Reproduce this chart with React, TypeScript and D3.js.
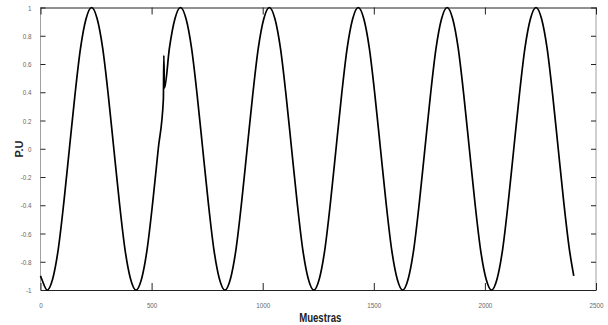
import { useEffect, useRef } from 'react';
import * as d3 from 'd3';

// muestras (con el transitorio cerca de la muestra 555)
const muestras = [
  0, 5, 30, 55, 80, 105, 130, 155, 180, 205, 230, 255, 280, 305, 330, 355, 380,
  405, 430, 455, 480, 505, 530, 553, 555, 558, 580, 605, 630, 655, 680, 705, 730, 755, 780,
  805, 830, 855, 880, 905, 930, 955, 980, 1005, 1030, 1055, 1080, 1105, 1130, 1155, 1180,
  1205, 1230, 1255, 1280, 1305, 1330, 1355, 1380, 1405, 1430, 1455, 1480, 1505, 1530, 1555, 1580,
  1605, 1630, 1655, 1680, 1705, 1730, 1755, 1780, 1805, 1830, 1855, 1880, 1905, 1930, 1955, 1980,
  2005, 2030, 2055, 2080, 2105, 2130, 2155, 2180, 2205, 2230, 2255, 2280, 2305, 2330, 2355, 2380, 2400,
];
const valores = [
  -0.9, -0.92, -1, -0.92, -0.71, -0.38, 0, 0.38, 0.71, 0.92, 1, 0.92, 0.71, 0.38, 0, -0.38, -0.71,
  -0.92, -1, -0.92, -0.71, -0.38, 0, 0.35, 0.66, 0.43, 0.71, 0.92, 1, 0.92, 0.71, 0.38, 0, -0.38, -0.71,
  -0.92, -1, -0.92, -0.71, -0.38, 0, 0.38, 0.71, 0.92, 1, 0.92, 0.71, 0.38, 0, -0.38, -0.71,
  -0.92, -1, -0.92, -0.71, -0.38, 0, 0.38, 0.71, 0.92, 1, 0.92, 0.71, 0.38, 0, -0.38, -0.71,
  -0.92, -1, -0.92, -0.71, -0.38, 0, 0.38, 0.71, 0.92, 1, 0.92, 0.71, 0.38, 0, -0.38, -0.71,
  -0.92, -1, -0.92, -0.71, -0.38, 0, 0.38, 0.71, 0.92, 1, 0.92, 0.71, 0.38, 0, -0.38, -0.71, -0.9,
];
const xTicks = [0, 500, 1000, 1500, 2000, 2500];
const yTicks = [-1, -0.8, -0.6, -0.4, -0.2, 0, 0.2, 0.4, 0.6, 0.8, 1];

const W = 608, H = 325;
const FONT = '"Liberation Sans", Arial, sans-serif';

// la figura original usa una fuente estrecha: se comprime el texto
function narrow(sel: d3.Selection<any, any, any, any>, k = 0.78) {
  sel.each(function (this: SVGTextElement) {
    const l = this.getComputedTextLength();
    this.setAttribute('textLength', String(l * k));
    this.setAttribute('lengthAdjust', 'spacingAndGlyphs');
  });
}

export default function App() {
  const ref = useRef<SVGSVGElement | null>(null);
  useEffect(() => {
    const svg = d3.select(ref.current!);
    svg.selectAll('*').remove();
    const margin = { top: 7.5, right: 12, bottom: 35, left: 40.5 };
    const iw = W - margin.left - margin.right;
    const ih = H - margin.top - margin.bottom;
    const g = svg.append('g').attr('transform', `translate(${margin.left},${margin.top})`);

    const x = d3.scaleLinear().domain([0, 2500]).range([0, iw]);
    const y = d3.scaleLinear().domain([-1, 1]).range([ih, 0]);

    // marco: arriba/abajo negro, lados gris
    g.append('line').attr('x1', 0).attr('x2', 0).attr('y1', 0).attr('y2', ih).attr('stroke', '#a0a0a0');
    g.append('line').attr('x1', iw).attr('x2', iw).attr('y1', 0).attr('y2', ih).attr('stroke', '#a0a0a0');

    const fmt = (d: number) => String(+d.toFixed(1));
    g.append('g').attr('transform', `translate(0,${ih})`)
      .call(d3.axisBottom(x).tickValues(xTicks).tickSizeInner(-7).tickSizeOuter(0).tickPadding(12).tickFormat((d) => String(d)))
      .call((s) => s.select('.domain').attr('stroke', '#222'))
      .call((s) => s.selectAll('.tick line').attr('stroke', '#222'))
      .selectAll('text').attr('font-size', 8).attr('fill', '#666').attr('font-family', FONT).call(narrow);
    g.append('g')
      .call(d3.axisTop(x).tickValues(xTicks).tickSizeInner(-7).tickSizeOuter(0).tickFormat(() => ''))
      .call((s) => s.select('.domain').attr('stroke', '#222'))
      .call((s) => s.selectAll('.tick line').attr('stroke', '#222'));
    g.append('g')
      .call(d3.axisLeft(y).tickValues(yTicks).tickSizeInner(-5).tickSizeOuter(0).tickPadding(9).tickFormat((d) => fmt(Number(d))))
      .call((s) => s.select('.domain').remove())
      .call((s) => s.selectAll('.tick line').attr('stroke', '#222'))
      .selectAll('text').attr('font-size', 8).attr('fill', '#666').attr('font-family', FONT).call(narrow);
    g.append('g').attr('transform', `translate(${iw},0)`)
      .call(d3.axisRight(y).tickValues(yTicks).tickSizeInner(-5).tickSizeOuter(0).tickFormat(() => ''))
      .call((s) => s.select('.domain').remove())
      .call((s) => s.selectAll('.tick line').attr('stroke', '#222'));

    const data = muestras.map((m, i) => ({ m, v: valores[i] }));
    const line = d3.line<{ m: number; v: number }>().x((d) => x(d.m)).y((d) => y(d.v)).curve(d3.curveMonotoneX);
    g.append('path').datum(data).attr('fill', 'none').attr('stroke', '#000').attr('stroke-width', 1.7)
      .attr('stroke-linejoin', 'round').attr('d', line as any);

    svg.append('text').attr('x', margin.left + iw / 2 + 2).attr('y', 322).attr('text-anchor', 'middle')
      .attr('font-size', 12).attr('font-weight', 'bold').attr('fill', '#222').attr('font-family', FONT).text('Muestras')
      .call(narrow, 0.8);
    svg.append('text').attr('transform', `translate(23,149) rotate(-90)`).attr('text-anchor', 'middle')
      .attr('font-size', 11).attr('font-weight', 'bold').attr('fill', '#222').attr('font-family', FONT).text('P.U');
  }, []);
  return <svg ref={ref} width={W} height={H} style={{ position: 'absolute', left: 0, top: 0, background: '#fff' }} />;
}
